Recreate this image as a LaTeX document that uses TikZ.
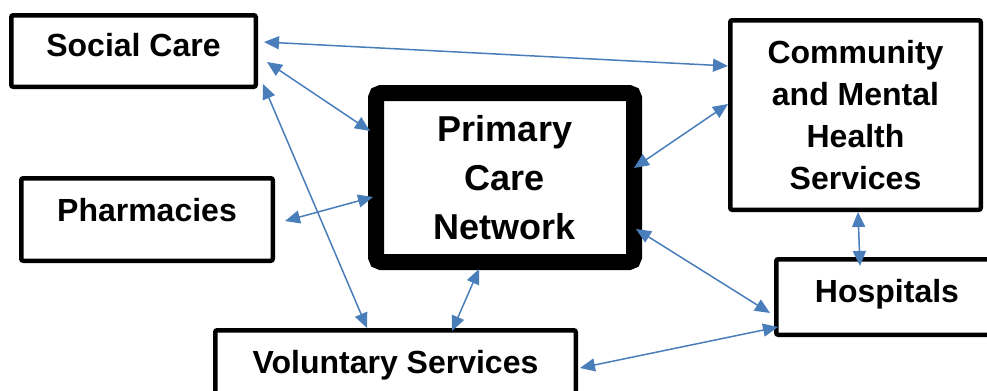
\documentclass[tikz,border=0pt]{standalone}
\usepackage{fontspec}
\setmainfont{Liberation Sans}
\usepackage{tikz}
\usetikzlibrary{arrows.meta}
\usepackage{xcolor}
\definecolor{linkblue}{HTML}{4A7EBB}

\begin{document}
\begin{tikzpicture}[x=0.5pt,y=-0.5pt]
    %styles
    \tikzstyle{unit}=[rectangle,draw,line width=2.25pt,rounded corners=1pt,align=center,font=\fontsize{16}{21}\selectfont\bfseries]
    \tikzstyle{hub}=[unit,line width=8pt,rounded corners=2.5pt,font=\fontsize{18}{24.5}\selectfont\bfseries]
    \tikzstyle{link}=[{Triangle[length=7.5pt,width=6.5pt]}-{Triangle[length=7.5pt,width=6.5pt]},linkblue,line width=0.75pt]
    \useasboundingbox (0,0) rectangle (987,391);
    %nodes
    \node[unit,minimum width=122.25pt,minimum height=35.75pt,text depth=6pt] (social) at (133.5,51) {Social Care};
    \node[unit,minimum width=125.75pt,minimum height=41.25pt,text depth=10pt] (pharmacies) at (147,219.5) {Pharmacies};
    \node[hub,minimum width=129pt,minimum height=84.5pt] (pcn) at (505,177.5) {Primary\\Care\\Network};
    \node[unit,minimum width=125.25pt,minimum height=94.75pt] (community) at (855.5,115) {Community\\and Mental\\Health\\Services};
    \node[unit,minimum width=110.75pt,minimum height=37.75pt,text depth=6pt] (hospitals) at (887,297) {Hospitals};
    \node[unit,minimum width=180.25pt,minimum height=31.75pt,text depth=0pt] (voluntary) at (395.5,362) {Voluntary Services};

    %arrows
    \draw[link] ([xshift=3pt,yshift=4.5pt]social.east) -- ([yshift=24.5pt]community.west);
    \draw[link] ([xshift=4.5pt,yshift=-5.5pt]social.east) -- ([xshift=1pt,yshift=23.25pt]pcn.west);
    \draw[link] ([xshift=2.5pt,yshift=-16.5pt]social.east) -- ([xshift=-14.25pt]voluntary.north);
    \draw[link] ([xshift=5pt,yshift=-0.75pt]pharmacies.east) -- ([xshift=2.5pt,yshift=-9.75pt]pcn.west);
    \draw[link] ([xshift=-4pt,yshift=4.75pt]pcn.east) -- ([yshift=5.5pt]community.west);
    \draw[link] ([xshift=-3pt,yshift=-25.75pt]pcn.east) -- ([xshift=-2pt,yshift=-8pt]hospitals.west);
    \draw[link] ([xshift=-13pt,yshift=0.5pt]pcn.south) -- ([xshift=28.25pt,yshift=-1.5pt]voluntary.north);
    \draw[link] ([xshift=1.25pt]community.south) -- ([xshift=-13.5pt,yshift=-4.5pt]hospitals.north);
    \draw[link] ([xshift=1pt,yshift=-3pt]voluntary.east) -- ([xshift=2pt,yshift=-15pt]hospitals.west);

\end{tikzpicture}
\end{document}
